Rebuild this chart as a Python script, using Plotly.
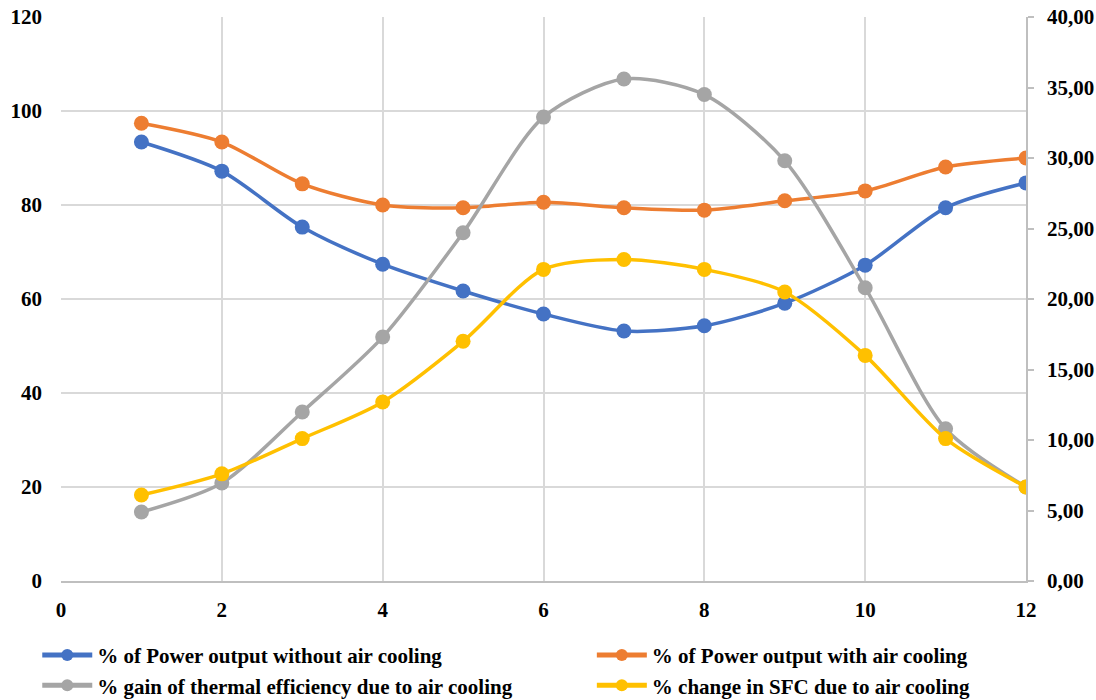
import plotly.graph_objects as go

x_vals = [1, 2, 3, 4, 5, 6, 7, 8, 9, 10, 11, 12]
power_without = [93.4, 87.2, 75.3, 67.4, 61.7, 56.8, 53.2, 54.3, 59.1, 67.2, 79.4, 84.7]
power_with = [97.4, 93.4, 84.5, 80.0, 79.4, 80.6, 79.4, 78.9, 80.9, 83.0, 88.1, 90.0]
thermal_gain = [4.89, 6.95, 11.99, 17.3, 24.7, 32.9, 35.6, 34.5, 29.8, 20.8, 10.8, 6.67]
sfc_change = [6.1, 7.6, 10.1, 12.7, 17.0, 22.1, 22.8, 22.1, 20.5, 16.0, 10.1, 6.67]

names = [
    "% of Power output without air cooling",
    "% of Power output with air cooling",
    "% gain of thermal efficiency due to air cooling",
    "% change in SFC due to air cooling",
]
colors = ["#4472C4", "#ED7D31", "#A5A5A5", "#FFC000"]
legend_ids = ["legend", "legend2", "legend", "legend2"]

FONT = "Liberation Serif"

fig = go.Figure()
series = [(power_without, "y"), (power_with, "y"), (thermal_gain, "y2"), (sfc_change, "y2")]
for (vals, ax), name, col, lg in zip(series, names, colors, legend_ids):
    fig.add_trace(go.Scatter(
        x=x_vals, y=vals, name=name, yaxis=ax, legend=lg,
        mode="lines+markers",
        line=dict(color=col, width=3.5, shape="spline", smoothing=0.8),
        marker=dict(color=col, size=15),
    ))

grid = "#D9D9D9"
tf = dict(family=FONT, size=21, color="black", weight="bold")
lf = dict(family=FONT, size=21, color="black", weight="bold")
fig.update_layout(
    width=1096, height=700,
    margin=dict(l=61, r=70, t=17, b=119, autoexpand=False),
    paper_bgcolor="white", plot_bgcolor="white",
    separators=", ",
    font=dict(family=FONT, size=20, color="black"),
    xaxis=dict(range=[0, 12], tickvals=[0, 2, 4, 6, 8, 10, 12], showgrid=True, gridcolor=grid, gridwidth=1.5,
               showline=True, linecolor="#BFBFBF", linewidth=1.5, zeroline=False, automargin=False,
               tickfont=tf, ticks="", ticklabelstandoff=9),
    yaxis=dict(range=[0, 120], tickvals=[0, 20, 40, 60, 80, 100, 120], showgrid=True, gridcolor=grid, gridwidth=1.5,
               zeroline=False, showline=False, automargin=False,
               tickfont=tf, ticklabelstandoff=18),
    yaxis2=dict(range=[0, 40], tickvals=[0, 5, 10, 15, 20, 25, 30, 35, 40], overlaying="y", side="right",
                showgrid=False, zeroline=False, showline=True, linecolor="#BFBFBF", linewidth=1.5, automargin=False,
                ticks="outside", ticklen=6, tickcolor="#BFBFBF", tickwidth=1.5, tickformat=".2f",
                tickfont=tf, ticklabelstandoff=9),
    legend=dict(orientation="v", xref="container", yref="container", x=0.034, y=0.093, xanchor="left", yanchor="top",
                itemwidth=50, itemsizing="constant", font=lf, tracegroupgap=0, bgcolor="rgba(0,0,0,0)"),
    legend2=dict(orientation="v", xref="container", yref="container", x=0.54, y=0.093, xanchor="left", yanchor="top",
                 itemwidth=50, itemsizing="constant", font=lf, tracegroupgap=0, bgcolor="rgba(0,0,0,0)"),
    showlegend=True,
)

fig.write_html("out.html")
